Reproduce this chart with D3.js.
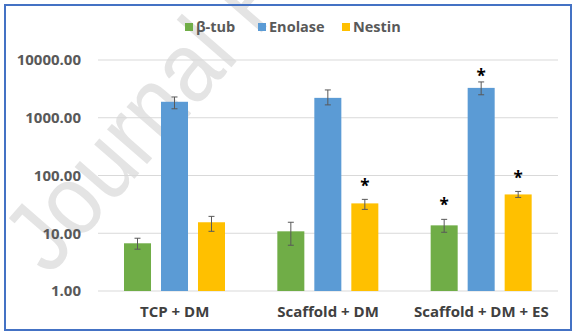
<!DOCTYPE html>
<html>
<head>
<meta charset="utf-8">
<script src="https://cdnjs.cloudflare.com/ajax/libs/d3/7.8.5/d3.min.js"></script>
<style>
  body { margin: 0; background: #fff; }
  text { font-family: "Open Sans", sans-serif; font-weight: 700; }
</style>
</head>
<body>
<div id="container"></div>
<script>
let w = 576;
let h = 336;

// DATA
let groups = ["TCP + DM", "Scaffold + DM", "Scaffold + DM + ES"];
let series = ["β-tub", "Enolase", "Nestin"];
let colors = ["#70AD47", "#5B9BD5", "#FFC000"];
let tubVals = [6.7, 10.8, 13.7];
let tubLo = [5.3, 6.2, 10.4];
let tubHi = [8.2, 15.5, 17.4];
let enoVals = [1890, 2210, 3290];
let enoLo = [1430, 1670, 2500];
let enoHi = [2290, 3030, 4170];
let nesVals = [15.5, 32.9, 47];
let nesLo = [10.8, 25.9, 41.7];
let nesHi = [19.6, 38.6, 53];
// where the significance stars sit (value units), null = no star
let tubStar = [null, null, 35];
let enoStar = [null, null, 5900];
let nesStar = [null, 75, 104];
let yTicks = [1, 10, 100, 1000, 10000];

let table = [];
groups.forEach((g, i) => {
  table.push({group: g, s: series[0], v: tubVals[i], lo: tubLo[i], hi: tubHi[i], star: tubStar[i]});
  table.push({group: g, s: series[1], v: enoVals[i], lo: enoLo[i], hi: enoHi[i], star: enoStar[i]});
  table.push({group: g, s: series[2], v: nesVals[i], lo: nesLo[i], hi: nesHi[i], star: nesStar[i]});
});

let viz = d3.select("#container").append("svg")
    .attr("width", w)
    .attr("height", h)
    .style("display", "block");

// watermark
viz.append("text")
    .attr("transform", "translate(49,277) rotate(-49) scale(0.89,1)")
    .attr("font-size", 100)
    .style("font-family", "'Liberation Sans', Arial, sans-serif")
    .style("font-weight", 400)
    .attr("fill", "#e4e4e4")
    .text("Journal Pre-proof");

// frame
viz.append("rect")
    .attr("x", 5).attr("y", 5)
    .attr("width", 566).attr("height", 325)
    .attr("fill", "none")
    .attr("stroke", "#4472C4")
    .attr("stroke-width", 2);

let x0 = d3.scaleBand().domain(groups).range([98, 558]).paddingInner(0).paddingOuter(0);
let x1 = d3.scaleBand().domain(series).range([26, 127]).paddingInner(0.27);
let y = d3.scaleLog().domain([1, 10000]).range([291, 60]);

// grid
viz.selectAll(".grid").data(yTicks).enter().append("line")
    .attr("x1", 98).attr("x2", 558)
    .attr("y1", d => y(d)).attr("y2", d => y(d))
    .attr("stroke", "#d9d9d9").attr("stroke-width", 1);

viz.selectAll(".ylab").data(yTicks).enter().append("text")
    .attr("x", 81).attr("y", d => y(d))
    .attr("dy", "0.35em")
    .attr("text-anchor", "end")
    .attr("font-size", 15)
    .attr("fill", "#595959")
    .text(d => d3.format(".2f")(d));

let bx = d => x0(d.group) + x1(d.s);

viz.selectAll(".bar").data(table).enter().append("rect")
    .attr("x", bx)
    .attr("y", d => y(d.v))
    .attr("width", x1.bandwidth())
    .attr("height", d => y(1) - y(d.v))
    .attr("fill", d => colors[series.indexOf(d.s)]);

let err = viz.selectAll(".err").data(table).enter().append("g")
    .attr("stroke", "#595959").attr("stroke-width", 1);
err.append("line")
    .attr("x1", d => bx(d) + x1.bandwidth() / 2).attr("x2", d => bx(d) + x1.bandwidth() / 2)
    .attr("y1", d => y(d.lo)).attr("y2", d => y(d.hi));
err.append("line")
    .attr("x1", d => bx(d) + x1.bandwidth() / 2 - 3).attr("x2", d => bx(d) + x1.bandwidth() / 2 + 3)
    .attr("y1", d => y(d.lo)).attr("y2", d => y(d.lo));
err.append("line")
    .attr("x1", d => bx(d) + x1.bandwidth() / 2 - 3).attr("x2", d => bx(d) + x1.bandwidth() / 2 + 3)
    .attr("y1", d => y(d.hi)).attr("y2", d => y(d.hi));

viz.selectAll(".star").data(table.filter(d => d.star)).enter().append("text")
    .attr("x", d => bx(d) + x1.bandwidth() / 2)
    .attr("y", d => y(d.star) + 9)
    .attr("text-anchor", "middle")
    .attr("font-size", 17)
    .attr("fill", "#000")
    .text("*");

viz.selectAll(".xlab").data(groups).enter().append("text")
    .attr("x", d => x0(d) + x0.bandwidth() / 2)
    .attr("y", 317)
    .attr("text-anchor", "middle")
    .attr("font-size", 15)
    .attr("fill", "#404040")
    .text(d => d);

// legend
let legX = [185, 258, 342];
let leg = viz.selectAll(".leg").data(series).enter().append("g")
    .attr("transform", (d, i) => `translate(${legX[i]},27)`);
leg.append("rect")
    .attr("x", 0).attr("y", -4).attr("width", 8).attr("height", 8)
    .attr("fill", (d, i) => colors[i]);
leg.append("text")
    .attr("x", 11).attr("dy", "0.35em")
    .attr("font-size", 14.5)
    .attr("fill", "#595959")
    .text(d => d);
</script>
</body>
</html>
